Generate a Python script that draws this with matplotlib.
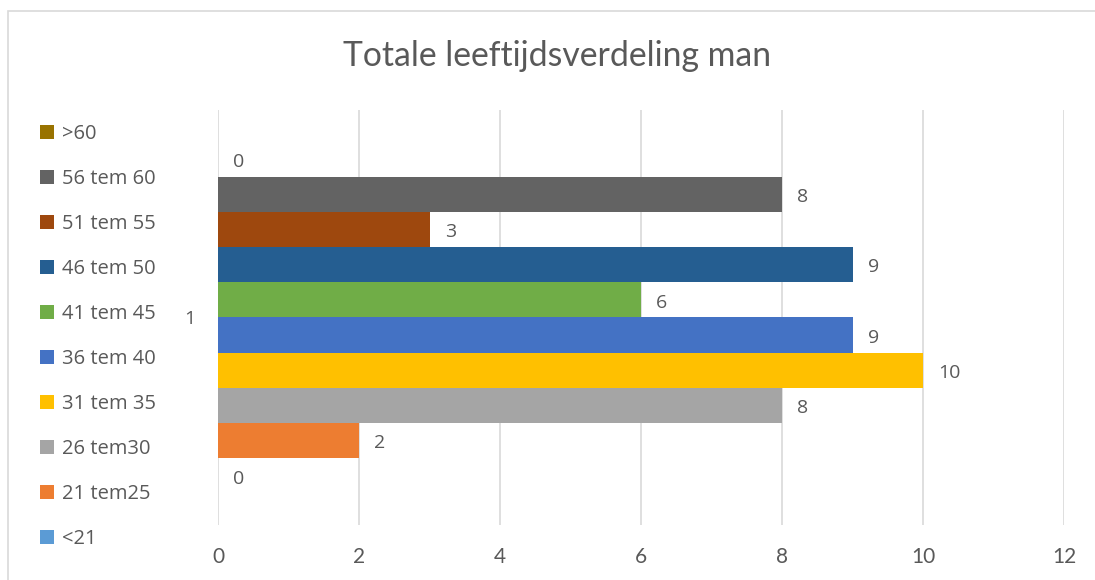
import matplotlib
matplotlib.use("Agg")
import matplotlib.pyplot as plt
from matplotlib.patches import Rectangle, Patch

series = ["<21", "21 tem25", "26 tem30", "31 tem 35", "36 tem 40",
          "41 tem 45", "46 tem 50", "51 tem 55", "56 tem 60", ">60"]
values = [0, 2, 8, 10, 9, 6, 9, 3, 8, 0]
colors = ["#5B9BD5", "#ED7D31", "#A5A5A5", "#FFC000", "#4472C4",
          "#70AD47", "#255E91", "#9E480E", "#636363", "#997300"]
category = ["1"]
xticks = [0, 2, 4, 6, 8, 10, 12]
title = "Totale leeftijdsverdeling man"

W, H = 1095, 580
fig = plt.figure(figsize=(W / 100, H / 100), dpi=100)
fig.patch.set_facecolor("white")

# chart border
fig.patches.append(Rectangle((8 / W, -0.1), 1.2, 1.1 - 11 / H, transform=fig.transFigure,
                             fill=False, edgecolor="#d9d9d9", linewidth=1.2))

ax = fig.add_axes([218 / W, 1 - 525 / H, (1064 - 218) / W, (525 - 110) / H])
txt = "#595959"

n = len(series)
total = 0.848
bh = total / n
for i, (lab, v, c) in enumerate(zip(series, values, colors)):
    y = -total / 2 + (i + 0.5) * bh
    ax.barh(y, v, height=bh, color=c, label=lab, zorder=2)
    ax.annotate(str(v), (v, y), xytext=(11, -2), textcoords="offset points",
                ha="left", va="center", fontsize=14, color=txt, family="Open Sans")

ax.set_xlim(0, 12)
ax.set_ylim(-0.5, 0.5)
ax.set_xticks(xticks)
ax.set_xticklabels([str(t) for t in xticks], fontsize=15, color=txt, family="Lato")
ax.set_yticks([0])
ax.set_yticklabels(category, fontsize=14, color=txt, family="Open Sans")
ax.tick_params(axis="x", length=0, pad=16)
ax.tick_params(axis="y", length=0, pad=16)
ax.grid(axis="x", color="#d9d9d9", linewidth=1.2, zorder=0)
ax.set_axisbelow(True)
for s in ax.spines.values():
    s.set_visible(False)

fig.text(557 / W, 1 - 56 / H, title, ha="center", va="center", fontsize=24.3,
         color=txt, family="Lato")

handles = [Patch(facecolor=c, edgecolor="none") for c in colors][::-1]
labels = series[::-1]
fig.legend(handles, labels, loc="upper left", bbox_to_anchor=(22 / W, 1 - 106 / H),
           frameon=False, labelcolor=txt, handlelength=0.7,
           handleheight=0.7, handletextpad=0.4, labelspacing=1.24,
           prop={"family": "Open Sans", "size": 14.5})

fig.savefig("out.png", dpi=100)
